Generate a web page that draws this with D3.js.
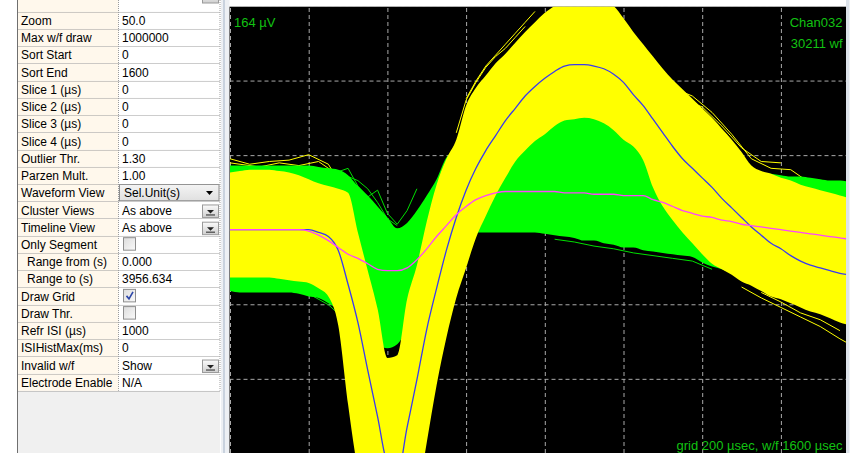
<!DOCTYPE html>
<html>
<head>
<meta charset="utf-8">
<script src="https://cdn.jsdelivr.net/npm/d3@7"></script>
<style>
  html, body { margin: 0; padding: 0; background: #fff; overflow: hidden; }
  svg text { font-family: "Liberation Sans", Arial, sans-serif; }
</style>
</head>
<body>
<svg id="canvas" width="856" height="453"></svg>
<script>
'use strict';

/* ---- property grid (left panel) ---- */
const propNames = ['Zoom', 'Max w/f draw', 'Sort Start', 'Sort End', 'Slice 1 (µs)', 'Slice 2 (µs)',
  'Slice 3 (µs)', 'Slice 4 (µs)', 'Outlier Thr.', 'Parzen Mult.', 'Waveform View', 'Cluster Views',
  'Timeline View', 'Only Segment', 'Range from (s)', 'Range to (s)', 'Draw Grid', 'Draw Thr.',
  'Refr ISI (µs)', 'ISIHistMax(ms)', 'Invalid w/f', 'Electrode Enable'];
const propValues = ['50.0', '1000000', '0', '1600', '0', '0', '0', '0', '1.30', '1.00', 'Sel.Unit(s)',
  'As above', 'As above', '', '0.000', '3956.634', '', '', '1000', '0', 'Show', 'N/A'];
/* widget used by each row */
const propWidgets = ['text', 'text', 'text', 'text', 'text', 'text', 'text', 'text', 'text', 'text', 'combo',
  'button', 'button', 'check', 'text', 'text', 'checked', 'check', 'text', 'text', 'button', 'text'];
const indentedProps = ['Range from (s)', 'Range to (s)'];

/* ---- waveform data: 40 kHz samples, 1600 µs window, values in µV ---- */
const timesUs = [0, 25, 50, 75, 100, 125, 150, 175, 200, 225, 250, 275, 300, 325, 350, 375,
  400, 425, 450, 475, 500, 525, 550, 575, 600, 625, 650, 675, 700, 725, 750, 775,
  800, 825, 850, 875, 900, 925, 950, 975, 1000, 1025, 1050, 1075, 1100, 1125, 1150, 1175,
  1200, 1225, 1250, 1275, 1300, 1325, 1350, 1375, 1400, 1425, 1450, 1475, 1500, 1525, 1550, 1575];

/* unit 1 (yellow) */
const yellowMean = [0, 0, 0, 0, 0, 0, 0, 0, 0, -2, -5, -15, -40, -68, -103, -137,
  -172, -180, -145, -110, -73, -43, -15, 9, 29, 45, 58, 69, 80, 89, 98, 105,
  111, 116, 120, 121, 121, 120, 118, 114, 108, 99, 91, 81, 71, 61, 52, 45,
  38, 31, 23, 16, 9, 2, -4, -10, -14, -19, -23, -26, -28, -30, -32, -33];
const yellowUpper = [42, 43, 44, 44, 44, 43, 42, 40, 37, 34, 32, 30, 27, -2, -30, -58,
  -94, -92, -51, -26, 6, 33, 52, 66, 91, 104, 113, 122, 129, 137, 145, 152,
  159, 164, 168, 170, 170, 169, 167, 164, 155, 145, 136, 127, 118, 110, 103, 96,
  89, 82, 74, 66, 57, 47, 43, 41, 38, 36, 33, 31, 29, 27, 25, 23];
const yellowLower = [-35, -35, -35, -35, -35, -36, -37, -38, -39, -43, -49, -70, -128, -176, -201, -212,
  -216, -216, -212, -198, -156, -114, -79, -50, -28, -6, 10, 25, 38, 50, 58, 65,
  70, 76, 80, 81, 82, 81, 78, 73, 66, 61, 51, 31, 17, 7, -2, -10,
  -18, -25, -29, -33, -38, -41, -45, -49, -51, -54, -57, -60, -62, -65, -68, -70];

/* unit 2 (green) */
const greenMean = [0, 0, 0, 0, 0, 0, 0, 0, -1, -4, -8, -13, -18, -21, -25, -29,
  -30, -30, -28, -22, -14, -5, 3, 11, 17, 22, 25, 27, 28, 28, 28, 28,
  28, 28, 27, 27, 27, 26, 26, 26, 25, 25, 25, 22, 20, 17, 14, 12,
  10, 9, 7, 6, 4, 3, 2, 1, 0, -1, -2, -3, -4, -5, -6, -7];
const greenUpper = [47, 47, 47, 47, 47, 47, 47, 47, 47, 46, 45, 44, 40, 32, 25, 17,
  9, 1, 5, 14, 25, 37, 53, 58, 62, 66, 69, 71, 73, 74, 76, 77,
  78, 80, 82, 83, 83, 82, 81, 77, 71, 67, 62, 58, 56, 54, 52, 51,
  50, 49, 47, 47, 45, 44, 42, 41, 40, 39, 39, 38, 37, 36, 36, 35];
const greenLower = [-45, -46, -46, -46, -46, -46, -46, -47, -49, -50, -54, -59, -66, -73, -79, -84,
  -87, -84, -73, -59, -44, -29, -19, -10, -5, -2, -2, -2, -2, -2, -2, -2,
  -3, -4, -5, -6, -8, -8, -10, -11, -13, -13, -15, -16, -17, -18, -19, -20,
  -24, -27, -29, -32, -34, -36, -38, -40, -42, -43, -45, -46, -48, -49, -51, -51];

/* a few stray waveforms outside the bulk of each unit: [time µs, µV] */
const yellowStrays = [
  [[0, 52], [50, 48], [100, 50], [150, 51], [200, 55], [250, 48], [275, 36], [300, 24], [325, 5]],
  [[0, 49], [75, 46], [125, 49], [175, 47], [225, 50], [275, 40], [300, 30]],
  [[600, 96], [625, 109], [650, 120], [675, 128], [700, 136], [725, 144], [750, 152], [775, 160]],
  [[575, 71], [600, 95], [625, 108], [650, 119], [675, 127], [700, 133], [725, 141], [750, 149]],
  [[1125, 104], [1175, 98], [1225, 86], [1275, 70], [1325, 52], [1375, 45], [1425, 44], [1475, 34], [1525, 35], [1575, 33]],
  [[1150, 96], [1200, 90], [1250, 76], [1300, 60], [1350, 50], [1400, 49]],
  [[1300, -42], [1350, -50], [1400, -57], [1450, -64], [1500, -71], [1550, -80], [1575, -84]],
  [[1350, -46], [1400, -53], [1450, -61], [1500, -66], [1550, -74]]
];
const greenStrays = [
  [[250, 40], [300, 45], [325, 32], [350, 24], [375, 29], [400, 12], [425, 4], [450, 14], [475, 30]],
  [[275, 42], [325, 36], [350, 30], [375, 20], [400, 8], [425, 3]],
  [[0, -40], [50, -42], [100, -39], [150, -44], [200, -47], [250, -55], [300, -68]],
  [[825, -7], [875, -9], [925, -12], [975, -14], [1025, -17], [1075, -19], [1125, -21], [1175, -23], [1225, -29]]
];

/* grid spacing: 200 µs horizontally, 164/3 µV vertically */
const gridTimesUs = [0, 200, 400, 600, 800, 1000, 1200, 1400, 1600];
const gridMicroVolts = [-164, -109.33, -54.67, 0, 54.67, 109.33, 164];

const channelLabel = 'Chan032';
const waveformCount = '30211 wf';
const scaleLabel = '164 µV';
const timeLabel = 'grid 200 µsec, w/f 1600 µsec';

const svg = d3.select('#canvas');
const W = 856, H = 453;

/* ================= left panel ================= */
const panelL = 17.5, colX = 118.5, panelR = 220;
const rowTop0 = 11.7, rowH = 17.23;
const tableBottom = rowTop0 + propNames.length * rowH;

svg.append('rect').attr('x', 0).attr('y', 0).attr('width', W).attr('height', H).attr('fill', '#fff');
svg.append('rect')
  .attr('x', panelL).attr('y', 0).attr('width', panelR - panelL).attr('height', H)
  .attr('fill', '#f0f0f0');

const defs = svg.append('defs');
const btnGrad = defs.append('linearGradient').attr('id', 'btnGrad').attr('x1', 0).attr('y1', 0).attr('x2', 0).attr('y2', 1);
btnGrad.append('stop').attr('offset', '0%').attr('stop-color', '#fbfbfb');
btnGrad.append('stop').attr('offset', '100%').attr('stop-color', '#cfcfcf');
const comboGrad = defs.append('linearGradient').attr('id', 'comboGrad').attr('x1', 0).attr('y1', 0).attr('x2', 0).attr('y2', 1);
comboGrad.append('stop').attr('offset', '0%').attr('stop-color', '#f4f4f4');
comboGrad.append('stop').attr('offset', '100%').attr('stop-color', '#e0e0e0');
const chkGrad = defs.append('linearGradient').attr('id', 'chkGrad').attr('x1', 0).attr('y1', 0).attr('x2', 1).attr('y2', 1);
chkGrad.append('stop').attr('offset', '0%').attr('stop-color', '#dcdcdc');
chkGrad.append('stop').attr('offset', '100%').attr('stop-color', '#fafafa');

const table = svg.append('g').attr('id', 'prop-table');

/* partially visible row above "Zoom" */
table.append('rect').attr('x', panelL).attr('y', 0).attr('width', colX - panelL).attr('height', rowTop0).attr('fill', '#fff8ec');
table.append('rect').attr('x', colX).attr('y', 0).attr('width', panelR - colX).attr('height', rowTop0).attr('fill', '#fff');
table.append('rect').attr('x', 202.5).attr('y', -9).attr('width', 16).attr('height', 12)
  .attr('fill', 'url(#btnGrad)').attr('stroke', '#9a9a9a');

const rowG = table.selectAll('g.row')
  .data(propNames.map((name, i) => ({ name, value: propValues[i], widget: propWidgets[i], i })))
  .enter().append('g').attr('class', 'row')
  .attr('transform', d => 'translate(0,' + (rowTop0 + d.i * rowH) + ')');

rowG.append('rect').attr('x', panelL).attr('y', 0).attr('width', colX - panelL).attr('height', rowH).attr('fill', '#fff8ec');
rowG.append('rect').attr('x', colX).attr('y', 0).attr('width', panelR - colX).attr('height', rowH).attr('fill', '#fff');

rowG.append('text')
  .attr('x', d => indentedProps.includes(d.name) ? 27 : 21)
  .attr('y', 13.3)
  .attr('font-size', 12).attr('fill', '#000')
  .text(d => d.name);

/* combo box */
const combo = rowG.filter(d => d.widget === 'combo');
combo.append('rect').attr('x', 119.5).attr('y', 0.5).attr('width', 99.5).attr('height', rowH - 1)
  .attr('fill', 'url(#comboGrad)').attr('stroke', '#8c8c8c');
combo.append('path').attr('d', 'M206,7 L213,7 L209.5,11 Z').attr('fill', '#000');

/* plain / button values */
rowG.filter(d => d.widget === 'text' || d.widget === 'button' || d.widget === 'combo')
  .append('text')
  .attr('x', d => d.widget === 'combo' ? 124 : 122)
  .attr('y', 13.3)
  .attr('font-size', 12).attr('fill', '#000')
  .text(d => d.value);

const btn = rowG.filter(d => d.widget === 'button');
btn.append('rect').attr('x', 202.5).attr('y', rowH - 13.5).attr('width', 16).attr('height', 12.5)
  .attr('fill', 'url(#btnGrad)').attr('stroke', '#9a9a9a');
btn.append('path').attr('d', 'M207,' + (rowH - 8.5) + ' L214,' + (rowH - 8.5) + ' L210.5,' + (rowH - 5) + ' Z').attr('fill', '#222');
btn.append('line').attr('x1', 206).attr('x2', 215).attr('y1', rowH - 3.5).attr('y2', rowH - 3.5)
  .attr('stroke', '#444').attr('stroke-width', 1.2);

/* checkboxes */
const chk = rowG.filter(d => d.widget === 'check' || d.widget === 'checked');
chk.append('rect').attr('x', 123.5).attr('y', 2).attr('width', 12).attr('height', 12.5)
  .attr('fill', 'url(#chkGrad)').attr('stroke', '#8e8e8e');
rowG.filter(d => d.widget === 'checked').append('path')
  .attr('d', 'M126.5,8.5 L129,11.5 L133,4.5')
  .attr('fill', 'none').attr('stroke', '#2b45a8').attr('stroke-width', 1.6);

/* dotted cell borders */
const borders = table.append('g').attr('stroke', '#9c9c9c').attr('stroke-dasharray', '1,1');
d3.range(propNames.length + 1).forEach(k => {
  const yy = Math.round(rowTop0 + k * rowH) + 0.5;
  borders.append('line').attr('x1', panelL).attr('x2', panelR).attr('y1', yy).attr('y2', yy);
});
[colX, panelR].forEach(xx => {
  borders.append('line').attr('x1', xx).attr('x2', xx).attr('y1', 0).attr('y2', tableBottom);
});

svg.append('line').attr('x1', panelL).attr('x2', panelL).attr('y1', 0).attr('y2', H)
  .attr('stroke', '#6f6f6f').attr('stroke-width', 1);

/* splitter between panel and plot */
svg.append('rect').attr('x', 221).attr('y', 0).attr('width', 8.5).attr('height', H).attr('fill', '#edf0f4');
svg.append('line').attr('x1', 224).attr('x2', 224).attr('y1', 0).attr('y2', H).attr('stroke', '#c9d2de').attr('stroke-width', 2);

/* ================= waveform view ================= */
const plotL = 229.5, plotR = 846, plotT = 6.7, plotB = 453;
const x = d3.scaleLinear().domain([0, 1600]).range([230, 859.6]);
const y = d3.scaleLinear().domain([-164, 164]).range([453.4, 6]);

svg.append('rect').attr('x', plotR).attr('y', 0).attr('width', 3.5).attr('height', H).attr('fill', '#dde3ea');
svg.append('rect').attr('x', plotL).attr('y', plotT).attr('width', plotR - plotL).attr('height', plotB - plotT).attr('fill', '#000');

defs.append('clipPath').attr('id', 'plotClip').append('rect')
  .attr('x', plotL).attr('y', plotT).attr('width', plotR - plotL).attr('height', plotB - plotT);
const plot = svg.append('g').attr('clip-path', 'url(#plotClip)');

/* dashed grid, drawn through the axes */
plot.append('g').attr('class', 'grid')
  .attr('transform', 'translate(0,' + plotB + ')')
  .call(d3.axisBottom(x).tickValues(gridTimesUs).tickSize(-(plotB - plotT)).tickFormat(''));
plot.append('g').attr('class', 'grid')
  .attr('transform', 'translate(' + plotL + ',0)')
  .call(d3.axisLeft(y).tickValues(gridMicroVolts).tickSize(-(plotR - plotL)).tickFormat(''));
plot.selectAll('.grid .domain').remove();
plot.selectAll('.grid line').attr('stroke', '#a9a9a9').attr('stroke-dasharray', '4,3');

const samples = timesUs.map((t, i) => ({
  t,
  ym: yellowMean[i], yu: yellowUpper[i], yl: yellowLower[i],
  gm: greenMean[i], gu: greenUpper[i], gl: greenLower[i]
}));

const band = (hi, lo) => d3.area()
  .x(d => x(d.t)).y0(d => y(d[lo])).y1(d => y(d[hi]))
  .curve(d3.curveMonotoneX);
const trace = key => d3.line().x(d => x(d.t)).y(d => y(d[key])).curve(d3.curveMonotoneX);
const stray = d3.line().x(d => x(d[0])).y(d => y(d[1]));

/* stray waveforms */
plot.selectAll('path.ystray').data(yellowStrays).enter().append('path')
  .attr('class', 'ystray').attr('d', stray)
  .attr('fill', 'none').attr('stroke', '#ffff00').attr('stroke-width', 1);
plot.selectAll('path.gstray').data(greenStrays).enter().append('path')
  .attr('class', 'gstray').attr('d', stray)
  .attr('fill', 'none').attr('stroke', '#00e000').attr('stroke-width', 1);

/* unit bands */
plot.append('path').datum(samples).attr('d', band('gu', 'gl')).attr('fill', '#00ff00');
plot.append('path').datum(samples).attr('d', band('yu', 'yl')).attr('fill', '#ffff00');

/* unit means */
plot.append('path').datum(samples).attr('d', trace('ym'))
  .attr('fill', 'none').attr('stroke', '#3a3af0').attr('stroke-width', 1.3);
plot.append('path').datum(samples).attr('d', trace('gm'))
  .attr('fill', 'none').attr('stroke', '#ff44ff').attr('stroke-width', 1.3);

/* labels */
const lbl = svg.append('g').attr('font-size', 13).attr('fill', '#12c212');
lbl.append('text').attr('x', 234).attr('y', 26.5).text(scaleLabel);
lbl.append('text').attr('x', 842.5).attr('y', 26.5).attr('text-anchor', 'end').text(channelLabel);
lbl.append('text').attr('x', 842.5).attr('y', 48).attr('text-anchor', 'end').text(waveformCount);
lbl.append('text').attr('x', 842.5).attr('y', 450).attr('text-anchor', 'end').text(timeLabel);
</script>
</body>
</html>
